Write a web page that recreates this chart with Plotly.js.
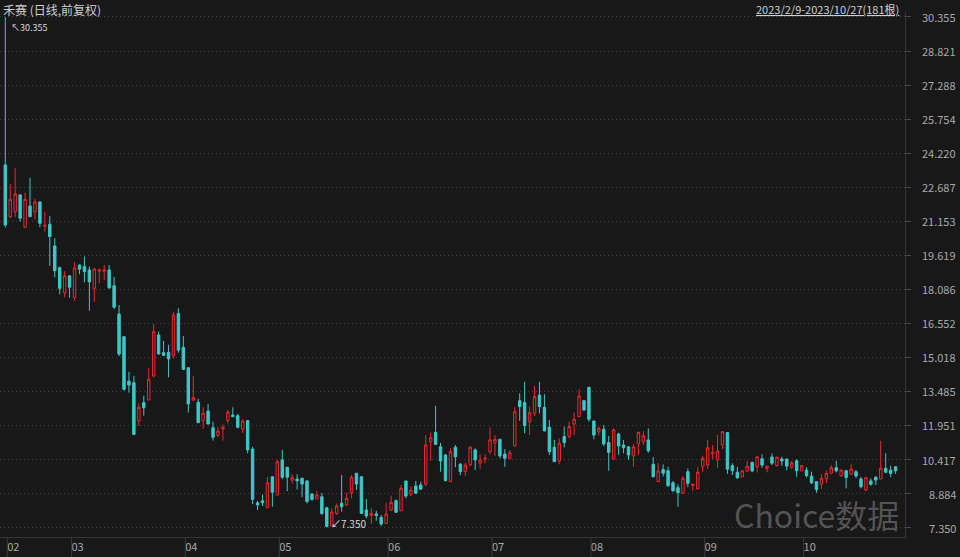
<!DOCTYPE html>
<html>
<head>
<meta charset="utf-8">
<script src="https://cdn.plot.ly/plotly-3.0.1.min.js"></script>
<style>
html,body{margin:0;padding:0;background:#181818;}
#chart{width:960px;height:557px;}
</style>
</head>
<body>
<div id="chart"></div>
<script>
// 禾赛 daily K-line, 2023/2/9 - 2023/10/27, 181 bars (index 0..180)
const open = [
23.69,21.36,21.58,22.34,20.88,21.84,21.58,22.02,20.93,21.02,
20.04,19.06,17.93,18.69,17.71,19.18,19.11,18.96,18.13,18.90,
18.90,18.96,18.25,16.97,15.95,13.95,13.88,12.16,12.98,13.10,
14.18,16.03,15.23,15.25,15.08,17.00,15.47,14.55,13.09,13.00,
12.17,12.60,11.85,11.51,11.79,12.17,12.42,12.39,11.79,12.17,
10.89,8.47,8.56,8.25,9.64,8.82,10.40,10.07,9.49,9.54,
9.57,9.45,8.86,8.64,8.74,8.24,7.42,7.99,8.45,8.37,
8.92,9.80,9.64,8.14,7.90,7.96,7.81,7.54,8.14,8.56,
8.11,9.45,8.85,9.22,9.27,9.31,11.22,11.64,10.99,10.62,
9.42,10.97,10.21,9.87,10.17,10.85,10.25,10.44,10.77,11.17,
11.33,10.66,10.47,11.03,13.07,12.99,12.12,12.50,13.32,12.77,
11.87,10.97,10.36,11.45,11.45,12.02,12.35,13.07,13.67,12.15,
11.67,11.78,11.18,10.43,11.57,11.07,10.99,10.58,11.12,11.22,
11.30,10.20,9.42,9.97,9.91,9.37,9.15,8.90,9.87,9.24,
9.10,10.09,10.17,10.67,10.40,11.07,11.63,10.14,9.84,9.64,
9.90,10.29,10.09,10.45,10.02,10.53,10.14,10.44,10.43,10.07,
10.36,9.91,9.94,9.67,9.42,9.31,9.54,9.80,10.05,9.69,
9.91,9.75,9.87,9.54,9.04,9.45,9.62,9.54,10.02,9.94,
10.09];
const high = [
30.355,22.83,23.54,22.37,22.44,23.11,22.17,22.05,21.58,21.39,
20.39,19.11,18.91,18.73,19.32,19.20,19.56,19.11,19.06,19.03,
19.18,19.18,18.65,17.38,15.98,14.37,14.18,12.95,13.29,14.55,
16.52,16.18,15.76,15.58,17.08,17.23,15.98,14.58,14.19,13.15,
12.77,12.92,12.12,11.89,12.00,12.65,12.77,12.47,12.23,12.18,
10.99,8.55,8.85,9.64,9.66,10.40,10.85,10.07,9.77,9.75,
9.60,9.49,8.90,9.00,8.90,8.29,8.22,8.44,9.72,8.92,
9.72,9.80,9.67,8.64,8.22,8.11,7.92,8.47,8.79,8.62,
9.27,9.45,9.22,9.45,9.42,11.52,11.64,12.83,11.17,10.67,
10.92,11.07,10.25,10.27,11.02,10.92,10.65,10.65,11.87,11.52,
11.33,10.88,10.84,12.77,13.40,13.92,12.80,13.73,13.92,13.36,
12.20,11.30,11.37,11.89,12.12,12.53,13.58,13.10,13.69,12.17,
11.92,11.97,11.48,11.82,11.62,11.30,11.02,11.12,11.67,11.70,
11.82,10.52,10.25,10.20,10.09,9.45,9.30,9.67,10.02,9.34,
10.07,10.59,11.30,11.07,11.53,11.70,11.63,10.25,10.09,9.94,
10.36,10.32,10.57,10.66,10.13,10.69,10.54,10.54,10.47,10.35,
10.43,10.17,10.07,9.87,9.45,9.76,9.94,10.17,10.36,9.97,
9.94,10.20,9.94,9.64,9.61,9.57,9.67,11.26,10.70,10.14,
10.12];
const low = [
20.87,21.29,21.33,21.13,20.85,21.34,21.24,20.88,20.68,19.14,
18.63,17.86,17.73,17.71,17.57,18.76,18.40,17.12,17.51,18.36,
18.51,18.10,17.20,15.08,13.52,13.43,11.51,11.93,12.39,13.08,
14.12,15.15,15.08,14.12,14.98,15.23,14.45,12.53,13.08,12.05,
11.79,12.00,11.27,11.42,11.27,12.05,12.33,11.82,11.61,10.70,
8.41,8.14,8.32,8.24,8.29,8.80,9.53,8.99,9.34,9.07,
8.72,8.44,8.56,8.64,7.92,7.35,7.40,7.92,8.07,8.32,
8.67,9.04,7.97,7.77,7.51,7.66,7.42,7.51,8.11,8.02,
8.10,8.67,8.77,8.86,9.06,9.22,10.36,11.07,9.87,9.45,
9.40,10.07,9.71,9.67,10.14,9.94,9.99,10.25,10.65,10.58,
10.47,10.09,10.43,10.99,12.16,11.60,11.52,12.38,12.50,11.67,
10.62,10.30,10.20,10.97,11.37,11.52,12.32,12.62,12.12,11.33,
11.49,11.02,9.91,10.40,10.62,10.69,10.40,10.09,10.62,11.07,
10.72,9.62,9.40,9.65,9.19,8.96,8.29,8.86,9.17,9.01,
9.07,9.87,9.99,10.44,10.05,10.88,9.77,9.72,9.54,9.61,
9.85,9.84,9.84,10.05,9.84,10.17,10.11,10.14,9.94,9.99,
9.64,9.90,9.61,9.31,8.92,9.09,9.35,9.76,9.84,9.63,
9.12,9.72,9.57,9.12,9.00,9.24,9.27,9.54,9.84,9.62,
9.77];
const close = [
20.98,22.14,22.38,21.29,22.14,21.36,22.02,21.06,20.97,20.46,
18.92,18.13,18.69,18.18,19.05,18.99,18.88,18.42,19.00,18.96,
18.96,18.16,17.28,15.17,13.58,13.77,11.55,12.77,12.75,14.04,
16.18,15.17,15.11,14.95,16.93,15.35,14.48,12.92,13.20,12.08,
12.50,12.02,11.42,11.70,11.87,12.55,12.35,11.87,12.15,10.85,
8.62,8.37,8.47,9.37,8.94,10.32,9.62,9.62,9.62,9.46,
9.31,8.52,8.62,8.82,7.99,7.40,8.05,8.32,8.29,8.67,
9.62,9.31,7.99,7.87,7.99,7.90,7.51,7.96,8.49,8.04,
9.12,8.77,9.04,8.90,9.08,11.07,11.40,11.10,10.35,9.46,
10.77,10.54,9.87,10.17,10.97,10.40,10.40,10.47,11.30,11.33,
10.58,10.47,10.72,12.57,12.80,11.94,12.53,13.25,12.80,11.71,
10.77,10.32,11.15,11.18,11.90,12.23,13.28,12.65,12.23,11.52,
11.82,11.12,10.74,11.75,11.03,10.95,10.62,10.99,11.64,11.49,
10.81,9.64,9.90,9.80,9.24,9.01,8.92,9.57,9.35,9.30,
9.84,10.47,10.95,10.74,10.80,11.67,9.98,9.91,9.60,9.91,
10.12,9.90,10.54,10.17,10.12,10.25,10.52,10.35,10.12,10.27,
9.91,10.14,9.69,9.37,9.07,9.57,9.79,10.05,9.91,9.94,
9.61,9.99,9.68,9.19,9.60,9.30,9.49,10.02,9.84,9.79,
9.91];

// month boundaries (bar index of the first trading day of each month)
const monthStarts = [0, 13, 36, 55, 77, 98, 118, 141, 161];
const monthLabels = ['02','03','04','05','06','07','08','09','10'];
// right axis tick values
const yTickVals = [30.355,28.821,27.288,25.754,24.220,22.687,21.153,19.619,18.086,16.552,15.018,13.485,11.951,10.417,8.884,7.350];

const titleText = '禾赛 (日线,前复权)';
const rangeText = '2023/2/9-2023/10/27(181根)';
const watermark = 'Choice数据';

const idx = open.map((_, i) => i);
const RED = '#f0262c', CYAN = '#3cc8c8', BG = '#181818';
const FONT = 'Noto Sans CJK SC, Noto Sans, sans-serif';

const maxHigh = Math.max(...high), maxI = high.indexOf(maxHigh);
const minLow = Math.min(...low), minI = low.indexOf(minLow);

const trace = {
  type: 'candlestick',
  x: idx, open: open, high: high, low: low, close: close,
  increasing: {line: {color: RED, width: 1}, fillcolor: BG},
  decreasing: {line: {color: CYAN, width: 1}, fillcolor: CYAN},
  whiskerwidth: 0,
  hoverinfo: 'skip',
  showlegend: false
};

const annotations = [];
yTickVals.forEach(v => annotations.push({
  xref: 'paper', x: 1, xanchor: 'right', xshift: 53,
  yref: 'y', y: v, yanchor: 'middle',
  text: v.toFixed(3), showarrow: false,
  font: {family: FONT, size: 11, color: '#a8a8a8'}
}));
annotations.push({
  xref: 'paper', x: 0, xanchor: 'left', xshift: 1,
  yref: 'paper', y: 1, yanchor: 'middle', yshift: 3,
  text: titleText, showarrow: false,
  font: {family: FONT, size: 12, color: '#cfcfcf'}
});
annotations.push({
  xref: 'paper', x: 1, xanchor: 'right', xshift: -4,
  yref: 'paper', y: 1, yanchor: 'middle', yshift: 3,
  text: '<u>' + rangeText + '</u>', showarrow: false,
  font: {family: FONT, size: 11, color: '#cfcfcf'}
});
annotations.push({
  xref: 'x', x: maxI, xanchor: 'left', xshift: 4,
  yref: 'y', y: maxHigh, yanchor: 'middle', yshift: -11,
  text: '↖' + maxHigh.toFixed(3), showarrow: false,
  font: {family: FONT, size: 9, color: '#d8d8d8'}
});
annotations.push({
  xref: 'x', x: minI, xanchor: 'left', xshift: 2,
  yref: 'y', y: minLow, yanchor: 'middle', yshift: 4,
  text: '↙' + minLow.toFixed(3), showarrow: false,
  font: {family: FONT, size: 10, color: '#d8d8d8'}
});
annotations.push({
  xref: 'paper', x: 1, xanchor: 'right', xshift: -4,
  yref: 'paper', y: 0, yanchor: 'middle', yshift: 23,
  text: watermark, showarrow: false,
  font: {family: FONT, size: 32, color: 'rgba(160,160,160,0.45)'}
});

const shapes = monthStarts.map(m => ({
  type: 'line', xref: 'x', yref: 'paper',
  x0: m + 0.4, x1: m + 0.4, y0: 0, y1: -0.04,
  line: {color: '#3a3a3a', width: 1}
}));

const layout = {
  width: 960, height: 557,
  paper_bgcolor: BG, plot_bgcolor: BG,
  margin: {l: 0, r: 55, t: 12, b: 20},
  hovermode: false,
  showlegend: false,
  xaxis: {
    type: 'linear', range: [-1.07, 181.9],
    tickvals: monthStarts, ticktext: monthLabels,
    ticks: '', ticklabelshift: 8,
    tickfont: {family: FONT, size: 11, color: '#a8a8a8'},
    showgrid: false, zeroline: false,
    showline: true, linecolor: '#353535', linewidth: 1,
    rangeslider: {visible: false}, fixedrange: true
  },
  yaxis: {
    side: 'right', range: [6.926, 30.58],
    tickvals: yTickVals, showticklabels: false,
    ticks: 'outside', ticklen: 5, tickcolor: '#4a4a4a',
    showgrid: true, gridcolor: '#404040', griddash: '1px,3px', gridwidth: 1,
    zeroline: false,
    showline: true, linecolor: '#353535', linewidth: 1,
    fixedrange: true
  },
  annotations: annotations,
  shapes: shapes
};

Plotly.newPlot('chart', [trace], layout, {displayModeBar: false, staticPlot: true});
</script>
</body>
</html>
